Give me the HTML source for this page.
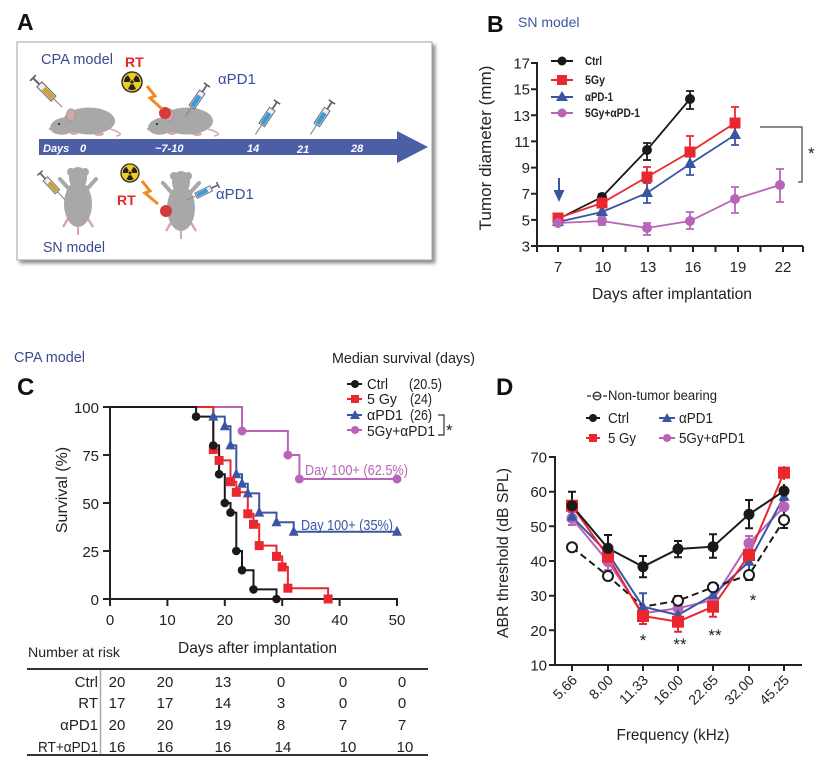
<!DOCTYPE html>
<html><head><meta charset="utf-8"><style>html,body{margin:0;padding:0;background:#fff}svg{display:block}</style></head>
<body>
<svg width="824" height="771" viewBox="0 0 824 771" font-family="'Liberation Sans', Arial, sans-serif">
<defs>
<filter id="sh" x="-5%" y="-5%" width="112%" height="115%"><feDropShadow dx="3" dy="3" stdDeviation="1.8" flood-color="#444" flood-opacity="0.6"/></filter>
<g id="syrY">
<line x1="0" y1="-4" x2="0" y2="4" stroke="#555" stroke-width="1.6"/>
<line x1="0" y1="0" x2="9" y2="0" stroke="#666" stroke-width="2"/>
<rect x="9" y="-3.5" width="20" height="7" fill="#eee" stroke="#666" stroke-width="1"/>
<rect x="15" y="-2.5" width="13" height="5" fill="#c9a13a"/>
<line x1="29" y1="0" x2="41" y2="0" stroke="#888" stroke-width="1.2"/>
</g>
<g id="syrB">
<line x1="0" y1="-4" x2="0" y2="4" stroke="#555" stroke-width="1.6"/>
<line x1="0" y1="0" x2="9" y2="0" stroke="#666" stroke-width="2"/>
<rect x="9" y="-3.5" width="20" height="7" fill="#eef" stroke="#666" stroke-width="1"/>
<rect x="14" y="-2.5" width="14" height="5" fill="#3f9bd8"/>
<line x1="29" y1="0" x2="41" y2="0" stroke="#888" stroke-width="1.2"/>
</g>
<g id="rad">
<circle r="10" fill="#f0cd1e" stroke="#333" stroke-width="1.5"/>
<path id="bl" d="M-1.25,2.165 L-4,6.93 A8,8 0 0,0 4,6.93 L1.25,2.165 A2.5,2.5 0 0,1 -1.25,2.165Z" fill="#222"/>
<path d="M-1.25,2.165 L-4,6.93 A8,8 0 0,0 4,6.93 L1.25,2.165 A2.5,2.5 0 0,1 -1.25,2.165Z" fill="#222" transform="rotate(120)"/>
<path d="M-1.25,2.165 L-4,6.93 A8,8 0 0,0 4,6.93 L1.25,2.165 A2.5,2.5 0 0,1 -1.25,2.165Z" fill="#222" transform="rotate(240)"/>
<circle r="1.6" fill="#222"/>
</g>
<g id="mside">
<path d="M24,10 C34,13 38,16 30,17" fill="none" stroke="#d9a9a9" stroke-width="1.6"/>
<ellipse cx="13" cy="15" rx="5" ry="2" fill="#dcaaaa"/>
<ellipse cx="-12" cy="14" rx="4" ry="2" fill="#dcaaaa"/>
<ellipse cx="3" cy="2" rx="26" ry="13.5" fill="#a8a8a8"/>
<ellipse cx="-22" cy="7" rx="14" ry="8.5" fill="#a8a8a8" transform="rotate(-10 -22 7)"/>
<ellipse cx="-15" cy="-4" rx="4.5" ry="6" fill="#d4a6a8" stroke="#9a9a9a" stroke-width="1"/>
<circle cx="-27" cy="5" r="1.1" fill="#333"/>
<circle cx="-36" cy="10" r="1.2" fill="#d49a9a"/>
</g>
<g id="mtop">
<line x1="0" y1="26" x2="0" y2="36" stroke="#d9a9a9" stroke-width="2"/>
<path d="M-9,18 L-15,28 M9,18 L15,28" stroke="#d9a9a9" stroke-width="2.5" fill="none"/>
<path d="M-9,-10 L-18,-20 M9,-10 L18,-20" stroke="#a8a8a8" stroke-width="4" fill="none" stroke-linecap="round"/>
<ellipse cx="0" cy="5" rx="14" ry="23" fill="#a8a8a8"/>
<ellipse cx="0" cy="-21" rx="9" ry="11" fill="#a8a8a8"/>
<circle cx="-7" cy="-27" r="4" fill="#a8a8a8"/>
<circle cx="7" cy="-27" r="4" fill="#a8a8a8"/>
</g>
</defs>
<rect width="824" height="771" fill="#fff"/>

<!-- ===== Panel A ===== -->
<text x="17" y="30" font-size="23" font-weight="bold" fill="#111">A</text>
<rect x="17" y="42" width="415" height="218" fill="#fff" stroke="#a0a0a0" stroke-width="1" filter="url(#sh)"/>
<polygon points="39,139 397,139 397,131 428,147 397,163 397,155 39,155" fill="#4b5ea6"/>
<g fill="#fff" font-size="11" font-style="italic" font-weight="bold">
<text x="43" y="152">Days</text>
<text x="80" y="152">0</text>
<text x="155" y="152">~7-10</text>
<text x="247" y="152">14</text>
<text x="297" y="153">21</text>
<text x="351" y="152">28</text>
</g>
<text x="41" y="64" font-size="15" fill="#3b4a8f" textLength="72" lengthAdjust="spacingAndGlyphs">CPA model</text>
<text x="125" y="67" font-size="14" font-weight="bold" fill="#e5262b">RT</text>
<text x="218" y="84" font-size="15" fill="#3a4e9c">αPD1</text>
<text x="117" y="205" font-size="14" font-weight="bold" fill="#e5262b">RT</text>
<text x="216" y="199" font-size="15" fill="#3a4e9c">αPD1</text>
<text x="43" y="252" font-size="15" fill="#3b4a8f" textLength="62" lengthAdjust="spacingAndGlyphs">SN model</text>

<use href="#mside" transform="translate(86,119)"/>
<use href="#mside" transform="translate(184,119)"/>
<circle cx="165" cy="113" r="6" fill="#d63b3b"/>
<use href="#syrY" transform="translate(33,78) rotate(45)"/>
<use href="#syrB" transform="translate(207,85) rotate(124.5) scale(0.93)"/>
<use href="#syrB" transform="translate(277,102) rotate(123.7) scale(0.95)"/>
<use href="#syrB" transform="translate(332,102) rotate(123.7) scale(0.95)"/>
<use href="#rad" transform="translate(132,82)"/>
<polyline points="147,86 155,96 150,98 162,109" fill="none" stroke="#f08a24" stroke-width="3" stroke-linejoin="miter"/>

<use href="#mtop" transform="translate(78,199)"/>
<use href="#mtop" transform="translate(181,203)"/>
<circle cx="166" cy="211" r="6" fill="#d63b3b"/>
<use href="#syrY" transform="translate(40,173) rotate(47) scale(0.88)"/>
<use href="#syrB" transform="translate(218,185) rotate(154) scale(0.84)"/>
<use href="#rad" transform="translate(130,173) scale(0.9)"/>
<polyline points="142,181 150,191 145,193 158,204" fill="none" stroke="#f08a24" stroke-width="3"/>

<!-- ===== Panel B ===== -->
<text x="487" y="32" font-size="23" font-weight="bold" fill="#111">B</text>
<text x="518" y="27" font-size="14" fill="#3b55a4">SN model</text>
<g stroke="#222" stroke-width="2" fill="none">
<line x1="537" y1="62" x2="537" y2="247"/>
<line x1="536" y1="246" x2="803" y2="246"/>
<path d="M531,246H537M531,219.9H537M531,193.7H537M531,167.6H537M531,141.4H537M531,115.3H537M531,89.2H537M531,63H537"/>
<path d="M537,246V252M558,246V252M580.5,246V252M603,246V252M625.5,246V252M648,246V252M670.5,246V252M693,246V252M715.5,246V252M738,246V252M760.5,246V252M783,246V252M803,246V252"/>
</g>
<g font-size="15" fill="#222" text-anchor="end">
<text x="530" y="251.5">3</text>
<text x="530" y="225.4">5</text>
<text x="530" y="199.2">7</text>
<text x="530" y="173.1">9</text>
<text x="530" y="146.9">11</text>
<text x="530" y="120.8">13</text>
<text x="530" y="94.7">15</text>
<text x="530" y="68.5">17</text>
</g>
<g font-size="15" fill="#222" text-anchor="middle">
<text x="558" y="272">7</text>
<text x="603" y="272">10</text>
<text x="648" y="272">13</text>
<text x="693" y="272">16</text>
<text x="738" y="272">19</text>
<text x="783" y="272">22</text>
</g>
<text x="672" y="299" font-size="16" fill="#222" text-anchor="middle" textLength="160" lengthAdjust="spacingAndGlyphs">Days after implantation</text>
<text transform="translate(491,148) rotate(-90)" font-size="17" fill="#222" text-anchor="middle" textLength="165" lengthAdjust="spacingAndGlyphs">Tumor diameter (mm)</text>

<!-- B arrow -->
<line x1="559" y1="178" x2="559" y2="194" stroke="#3a55a4" stroke-width="2"/>
<polygon points="553.5,190 564.5,190 559,202" fill="#3a55a4"/>

<!-- B series -->
<g stroke-width="1.8" fill="none">
<polyline points="558,219 602,197 647,150 690,99" stroke="#1a1a1a"/>
<path d="M602,194V200M598,194H606M598,200H606M647,143V160M643,143H651M643,160H651M690,91V109M686,91H694M686,109H694" stroke="#1a1a1a"/>
<polyline points="558,222 602,212 647,193 690,164 735,135" stroke="#3a55a4"/>
<path d="M647,183V203M643,183H651M643,203H651M690,153V175M686,153H694M686,175H694M735,125V145M731,125H739M731,145H739" stroke="#3a55a4"/>
<polyline points="558,218 602,203 647,177 690,152 735,123" stroke="#e8282e"/>
<path d="M602,198V208M598,198H606M647,167V187M643,167H651M690,136V168M686,136H694M735,107V139M731,107H739" stroke="#e8282e"/>
<polyline points="558,223 602,221 647,228 690,221 735,199 780,185" stroke="#b865b8"/>
<path d="M602,217V225M598,217H606M598,225H606M647,223V235M643,223H651M643,235H651M690,212V229M686,212H694M686,229H694M735,187V213M731,187H739M731,213H739M780,169V202M776,169H784M776,202H784" stroke="#b865b8"/>
</g>
<g fill="#1a1a1a"><circle cx="558" cy="219" r="5"/><circle cx="602" cy="197" r="5"/><circle cx="647" cy="150" r="5"/><circle cx="690" cy="99" r="5"/></g>
<g fill="#3a55a4"><polygon points="558,215 552,226 564,226"/><polygon points="602,205 596,216 608,216"/><polygon points="647,186 641,197 653,197"/><polygon points="690,157 684,168 696,168"/><polygon points="735,128 729,139 741,139"/></g>
<g fill="#e8282e"><rect x="552.5" y="212.5" width="11" height="11"/><rect x="596.5" y="197.5" width="11" height="11"/><rect x="641.5" y="171.5" width="11" height="11"/><rect x="684.5" y="146.5" width="11" height="11"/><rect x="729.5" y="117.5" width="11" height="11"/></g>
<g fill="#b865b8"><circle cx="558" cy="223" r="5"/><circle cx="602" cy="221" r="5"/><circle cx="647" cy="228" r="5"/><circle cx="690" cy="221" r="5"/><circle cx="735" cy="199" r="5"/><circle cx="780" cy="185" r="5"/></g>

<!-- B legend -->
<g stroke-width="2">
<line x1="551" y1="61" x2="573" y2="61" stroke="#1a1a1a"/><circle cx="562" cy="61" r="4.5" fill="#1a1a1a"/>
<line x1="551" y1="80" x2="573" y2="80" stroke="#e8282e"/><rect x="557" y="75" width="10" height="10" fill="#e8282e"/>
<line x1="551" y1="97" x2="573" y2="97" stroke="#3a55a4"/><polygon points="562,91 556,101 568,101" fill="#3a55a4"/>
<line x1="551" y1="113" x2="573" y2="113" stroke="#b865b8"/><circle cx="562" cy="113" r="4.5" fill="#b865b8"/>
</g>
<g font-size="12" font-weight="bold" fill="#222">
<text x="585" y="65" textLength="17" lengthAdjust="spacingAndGlyphs">Ctrl</text>
<text x="585" y="84" textLength="20" lengthAdjust="spacingAndGlyphs">5Gy</text>
<text x="585" y="101" textLength="28" lengthAdjust="spacingAndGlyphs">αPD-1</text>
<text x="585" y="117" textLength="55" lengthAdjust="spacingAndGlyphs">5Gy+αPD-1</text>
</g>
<path d="M760,127H802V182H798" fill="none" stroke="#444" stroke-width="1.2"/>
<text x="808" y="159" font-size="17" fill="#222">*</text>

<!-- ===== Panel C ===== -->
<text x="14" y="362" font-size="15" fill="#3b4a8f" textLength="71" lengthAdjust="spacingAndGlyphs">CPA model</text>
<text x="17" y="395" font-size="24" font-weight="bold" fill="#111">C</text>
<text x="332" y="363" font-size="15" fill="#222" textLength="143" lengthAdjust="spacingAndGlyphs">Median survival (days)</text>
<g stroke-width="2">
<line x1="347" y1="384" x2="362" y2="384" stroke="#1a1a1a"/><circle cx="355" cy="384" r="4" fill="#1a1a1a"/>
<line x1="347" y1="399" x2="362" y2="399" stroke="#e8282e"/><rect x="351" y="395" width="8" height="8" fill="#e8282e"/>
<line x1="347" y1="415" x2="362" y2="415" stroke="#3a55a4"/><polygon points="355,410 350,419 360,419" fill="#3a55a4"/>
<line x1="347" y1="430" x2="362" y2="430" stroke="#b865b8"/><circle cx="355" cy="430" r="4" fill="#b865b8"/>
</g>
<g font-size="15" fill="#222">
<text x="367" y="389" textLength="21" lengthAdjust="spacingAndGlyphs">Ctrl</text>
<text x="409" y="389" textLength="33" lengthAdjust="spacingAndGlyphs">(20.5)</text>
<text x="367" y="404" textLength="30" lengthAdjust="spacingAndGlyphs">5 Gy</text>
<text x="410" y="404" textLength="22" lengthAdjust="spacingAndGlyphs">(24)</text>
<text x="367" y="420" textLength="36" lengthAdjust="spacingAndGlyphs">αPD1</text>
<text x="410" y="420" textLength="22" lengthAdjust="spacingAndGlyphs">(26)</text>
<text x="367" y="436" textLength="68" lengthAdjust="spacingAndGlyphs">5Gy+αPD1</text>
</g>
<path d="M438,415H444V435H438" fill="none" stroke="#333" stroke-width="1.2"/>
<text x="446" y="436" font-size="17" fill="#222">*</text>

<g stroke="#222" stroke-width="2" fill="none">
<line x1="110" y1="406" x2="110" y2="600"/>
<line x1="109" y1="599" x2="398" y2="599"/>
<path d="M103,407H110M103,455H110M103,503H110M103,551H110M103,599H110"/>
<path d="M110,599V606M167.4,599V606M224.8,599V606M282.2,599V606M339.6,599V606M397,599V606"/>
</g>
<g font-size="15" fill="#222" text-anchor="end">
<text x="99" y="413">100</text>
<text x="99" y="461">75</text>
<text x="99" y="509">50</text>
<text x="99" y="557">25</text>
<text x="99" y="605">0</text>
</g>
<g font-size="15" fill="#222" text-anchor="middle">
<text x="110" y="625">0</text>
<text x="167.4" y="625">10</text>
<text x="224.8" y="625">20</text>
<text x="282.2" y="625">30</text>
<text x="339.6" y="625">40</text>
<text x="397" y="625">50</text>
</g>
<text transform="translate(67,490) rotate(-90)" font-size="16" fill="#222" text-anchor="middle">Survival (%)</text>

<g fill="none" stroke-width="2">
<path d="M110,407H242V431H287.9V455H299.4V479H397" stroke="#b865b8"/>
<path d="M110,407H213.3V416.6H224.8V426.2H230.5V445.4H236.3V474.2H242V483.8H247.8V493.4H259.2V512.6H276.5V522.2H293.7V531.8H397" stroke="#3a55a4"/>
<path d="M110,407H213.3V449.6H219.1V460.4H230.5V481.7H236.3V492.3H247.8V513.8H253.5V524.3H259.2V545.6H276.5V556.4H282.2V567H287.9V588.2H328.1V599" stroke="#e8282e"/>
<path d="M110,407H196.1V416.6H213.3V445.4H219.1V474.2H224.8V503H230.5V512.6H236.3V551H242V570.2H253.5V589.4H276.5V599" stroke="#1a1a1a"/>
</g>
<g fill="#b865b8"><circle cx="242" cy="431" r="4.5"/><circle cx="287.9" cy="455" r="4.5"/><circle cx="299.4" cy="479" r="4.5"/><circle cx="397" cy="479" r="4.5"/></g>
<g fill="#3a55a4">
<polygon points="213.3,410.6 208.3,420.6 218.3,420.6"/><polygon points="224.8,420.2 219.8,430.2 229.8,430.2"/><polygon points="230.5,439.4 225.5,449.4 235.5,449.4"/><polygon points="236.3,468.2 231.3,478.2 241.3,478.2"/><polygon points="242,477.8 237,487.8 247,487.8"/><polygon points="247.8,487.4 242.8,497.4 252.8,497.4"/><polygon points="259.2,506.6 254.2,516.6 264.2,516.6"/><polygon points="276.5,516.2 271.5,526.2 281.5,526.2"/><polygon points="293.7,525.8 288.7,535.8 298.7,535.8"/><polygon points="397,525.8 392,535.8 402,535.8"/>
</g>
<g fill="#e8282e">
<rect x="208.8" y="445.1" width="9" height="9"/><rect x="214.6" y="455.9" width="9" height="9"/><rect x="226" y="477.2" width="9" height="9"/><rect x="231.8" y="487.8" width="9" height="9"/><rect x="243.3" y="509.3" width="9" height="9"/><rect x="249" y="519.8" width="9" height="9"/><rect x="254.7" y="541.1" width="9" height="9"/><rect x="272" y="551.9" width="9" height="9"/><rect x="277.7" y="562.5" width="9" height="9"/><rect x="283.4" y="583.7" width="9" height="9"/><rect x="323.6" y="594.5" width="9" height="9"/>
</g>
<g fill="#1a1a1a">
<circle cx="196.1" cy="416.6" r="4.3"/><circle cx="213.3" cy="445.4" r="4.3"/><circle cx="219.1" cy="474.2" r="4.3"/><circle cx="224.8" cy="503" r="4.3"/><circle cx="230.5" cy="512.6" r="4.3"/><circle cx="236.3" cy="551" r="4.3"/><circle cx="242" cy="570.2" r="4.3"/><circle cx="253.5" cy="589.4" r="4.3"/><circle cx="276.5" cy="599" r="4.3"/>
</g>
<text x="305" y="475" font-size="15" fill="#b865b8" textLength="103" lengthAdjust="spacingAndGlyphs">Day 100+ (62.5%)</text>
<text x="301" y="530" font-size="15" fill="#3a55a4" textLength="92" lengthAdjust="spacingAndGlyphs">Day 100+ (35%)</text>

<!-- C table -->
<text x="178" y="653" font-size="16" fill="#222" textLength="159" lengthAdjust="spacingAndGlyphs">Days after implantation</text>
<text x="28" y="657" font-size="14" fill="#222" textLength="92" lengthAdjust="spacingAndGlyphs">Number at risk</text>
<line x1="27" y1="669" x2="428" y2="669" stroke="#333" stroke-width="2"/>
<line x1="27" y1="755" x2="428" y2="755" stroke="#333" stroke-width="2"/>
<line x1="100.5" y1="670" x2="100.5" y2="754" stroke="#aaa" stroke-width="1.5"/>
<g font-size="15" fill="#222" text-anchor="end">
<text x="98" y="687">Ctrl</text>
<text x="98" y="708">RT</text>
<text x="98" y="730">αPD1</text>
<text x="98" y="752" textLength="60" lengthAdjust="spacingAndGlyphs">RT+αPD1</text>
</g>
<g font-size="15" fill="#222" text-anchor="middle">
<text x="117" y="687">20</text><text x="165" y="687">20</text><text x="223" y="687">13</text><text x="281" y="687">0</text><text x="343" y="687">0</text><text x="402" y="687">0</text>
<text x="117" y="708">17</text><text x="165" y="708">17</text><text x="223" y="708">14</text><text x="281" y="708">3</text><text x="343" y="708">0</text><text x="402" y="708">0</text>
<text x="117" y="730">20</text><text x="165" y="730">20</text><text x="223" y="730">19</text><text x="281" y="730">8</text><text x="343" y="730">7</text><text x="402" y="730">7</text>
<text x="117" y="752">16</text><text x="165" y="752">16</text><text x="223" y="752">16</text><text x="283" y="752">14</text><text x="348" y="752">10</text><text x="405" y="752">10</text>
</g>

<!-- ===== Panel D ===== -->
<text x="496" y="395" font-size="24" font-weight="bold" fill="#111">D</text>
<g stroke="#333" stroke-width="1.3" fill="none">
<line x1="587" y1="396" x2="591" y2="396"/>
<circle cx="597" cy="396" r="3.8"/>
<line x1="593" y1="396" x2="601" y2="396"/>
<line x1="603" y1="396" x2="607" y2="396"/>
</g>
<text x="608" y="400" font-size="14" fill="#222" textLength="109" lengthAdjust="spacingAndGlyphs">Non-tumor bearing</text>
<g stroke-width="2">
<line x1="586" y1="418" x2="600" y2="418" stroke="#1a1a1a"/><circle cx="593" cy="418" r="4" fill="#1a1a1a"/>
<line x1="659" y1="418" x2="675" y2="418" stroke="#3a55a4"/><polygon points="667,413 662,422 672,422" fill="#3a55a4"/>
<line x1="586" y1="438" x2="600" y2="438" stroke="#e8282e"/><rect x="589" y="434" width="8" height="8" fill="#e8282e"/>
<line x1="659" y1="438" x2="675" y2="438" stroke="#b865b8"/><circle cx="667" cy="438" r="4" fill="#b865b8"/>
</g>
<g font-size="15" fill="#222">
<text x="608" y="423" textLength="21" lengthAdjust="spacingAndGlyphs">Ctrl</text>
<text x="679" y="423" textLength="34" lengthAdjust="spacingAndGlyphs">αPD1</text>
<text x="608" y="443" textLength="28" lengthAdjust="spacingAndGlyphs">5 Gy</text>
<text x="679" y="443" textLength="66" lengthAdjust="spacingAndGlyphs">5Gy+αPD1</text>
</g>

<g stroke="#222" stroke-width="2" fill="none">
<line x1="555" y1="456" x2="555" y2="666"/>
<line x1="554" y1="665" x2="802" y2="665"/>
<path d="M549,457H555M549,491.7H555M549,526.3H555M549,561H555M549,595.7H555M549,630.3H555M549,665H555"/>
<path d="M572,665V671M608,665V671M643,665V671M678,665V671M713,665V671M749,665V671M784,665V671"/>
</g>
<g font-size="15" fill="#222" text-anchor="end">
<text x="547" y="462.5">70</text>
<text x="547" y="497.2">60</text>
<text x="547" y="531.8">50</text>
<text x="547" y="566.5">40</text>
<text x="547" y="601.2">30</text>
<text x="547" y="635.8">20</text>
<text x="547" y="670.5">10</text>
</g>
<g font-size="14" fill="#222" text-anchor="end">
<text transform="translate(578,681) rotate(-45)">5.66</text>
<text transform="translate(614,681) rotate(-45)">8.00</text>
<text transform="translate(649,681) rotate(-45)">11.33</text>
<text transform="translate(684,681) rotate(-45)">16.00</text>
<text transform="translate(719,681) rotate(-45)">22.65</text>
<text transform="translate(755,681) rotate(-45)">32.00</text>
<text transform="translate(790,681) rotate(-45)">45.25</text>
</g>
<text transform="translate(508,553) rotate(-90)" font-size="16" fill="#222" text-anchor="middle" textLength="170" lengthAdjust="spacingAndGlyphs">ABR threshold (dB SPL)</text>
<text x="673" y="740" font-size="16" fill="#222" text-anchor="middle" textLength="113" lengthAdjust="spacingAndGlyphs">Frequency (kHz)</text>

<g fill="none" stroke-width="2">
<polyline points="572,518.3 608,561.7 643,613.3 678,608.3 713,600 749,543.3 784,506.7" stroke="#b865b8"/>
<path d="M572,512V525M568,512H576M568,525H576M608,553V570M604,553H612M604,570H612M749,536V550M745,536H753M784,500V513M780,500H788" stroke="#b865b8"/>
<polyline points="572,516.7 608,553.3 643,606.7 678,615 713,595 749,561.7 784,496.7" stroke="#3a55a4"/>
<path d="M643,593.3V620M639,593.3H647M608,545V561M713,588V602M709,588H717M749,553V570M784,488V505M780,488H788" stroke="#3a55a4"/>
<polyline points="572,547.3 608,576 643,606.7 678,600.7 713,587.3 749,575 784,520" stroke="#1a1a1a" stroke-dasharray="7,4"/>
<path d="M572,543V552M608,572V580M678,596V605M674,596H682M713,583V591M709,583H717M749,570V580M745,580H753M784,512V528M780,528H788" stroke="#1a1a1a"/>
<polyline points="572,505.7 608,556.7 643,616 678,621.7 713,606.7 749,555 784,472.7" stroke="#e8282e"/>
<path d="M572,498V512M608,548V565M643,608.3V624M639,624H647M678,613V631.7M674,631.7H682M713,596.7V616.7M709,616.7H717M749,545V565M784,466V480" stroke="#e8282e"/>
<polyline points="572,505.7 608,548.3 643,566.7 678,549 713,546.7 749,514.3 784,491" stroke="#1a1a1a"/>
<path d="M572,491.7V520M568,491.7H576M608,535V561.7M604,535H612M604,561.7H612M643,556V577.3M639,556H647M639,577.3H647M678,541V557.3M674,541H682M674,557.3H682M713,534.3V557.7M709,534.3H717M709,557.7H717M749,500V528.3M745,500H753M745,528.3H753M784,484V498" stroke="#1a1a1a"/>
</g>
<g fill="#b865b8"><circle cx="572" cy="518.3" r="5.5"/><circle cx="608" cy="561.7" r="5.5"/><circle cx="643" cy="613.3" r="5.5"/><circle cx="678" cy="608.3" r="5.5"/><circle cx="713" cy="600" r="5.5"/><circle cx="749" cy="543.3" r="5.5"/><circle cx="784" cy="506.7" r="5.5"/></g>
<g fill="#3a55a4"><polygon points="572,510.7 566.5,520.7 577.5,520.7"/><polygon points="608,547.3 602.5,557.3 613.5,557.3"/><polygon points="643,600.7 637.5,610.7 648.5,610.7"/><polygon points="678,609 672.5,619 683.5,619"/><polygon points="713,589 707.5,599 718.5,599"/><polygon points="749,555.7 743.5,565.7 754.5,565.7"/><polygon points="784,490.7 778.5,500.7 789.5,500.7"/></g>
<g fill="#fff" stroke="#1a1a1a" stroke-width="2"><circle cx="572" cy="547.3" r="5"/><circle cx="608" cy="576" r="5"/><circle cx="678" cy="600.7" r="5"/><circle cx="713" cy="587.3" r="5"/><circle cx="749" cy="575" r="5"/><circle cx="784" cy="520" r="5"/></g>
<g fill="#e8282e"><rect x="566" y="499.7" width="12" height="12"/><rect x="602" y="550.7" width="12" height="12"/><rect x="637" y="610" width="12" height="12"/><rect x="672" y="615.7" width="12" height="12"/><rect x="707" y="600.7" width="12" height="12"/><rect x="743" y="549" width="12" height="12"/><rect x="778" y="466.7" width="12" height="12"/></g>
<g fill="#1a1a1a"><circle cx="572" cy="505.7" r="5.5"/><circle cx="608" cy="548.3" r="5.5"/><circle cx="643" cy="566.7" r="5.5"/><circle cx="678" cy="549" r="5.5"/><circle cx="713" cy="546.7" r="5.5"/><circle cx="749" cy="514.3" r="5.5"/><circle cx="784" cy="491" r="5.5"/></g>
<g font-size="17" fill="#222" text-anchor="middle">
<text x="643" y="646">*</text>
<text x="680" y="650">**</text>
<text x="715" y="641">**</text>
<text x="753" y="606">*</text>
</g>
</svg>
</body></html>
